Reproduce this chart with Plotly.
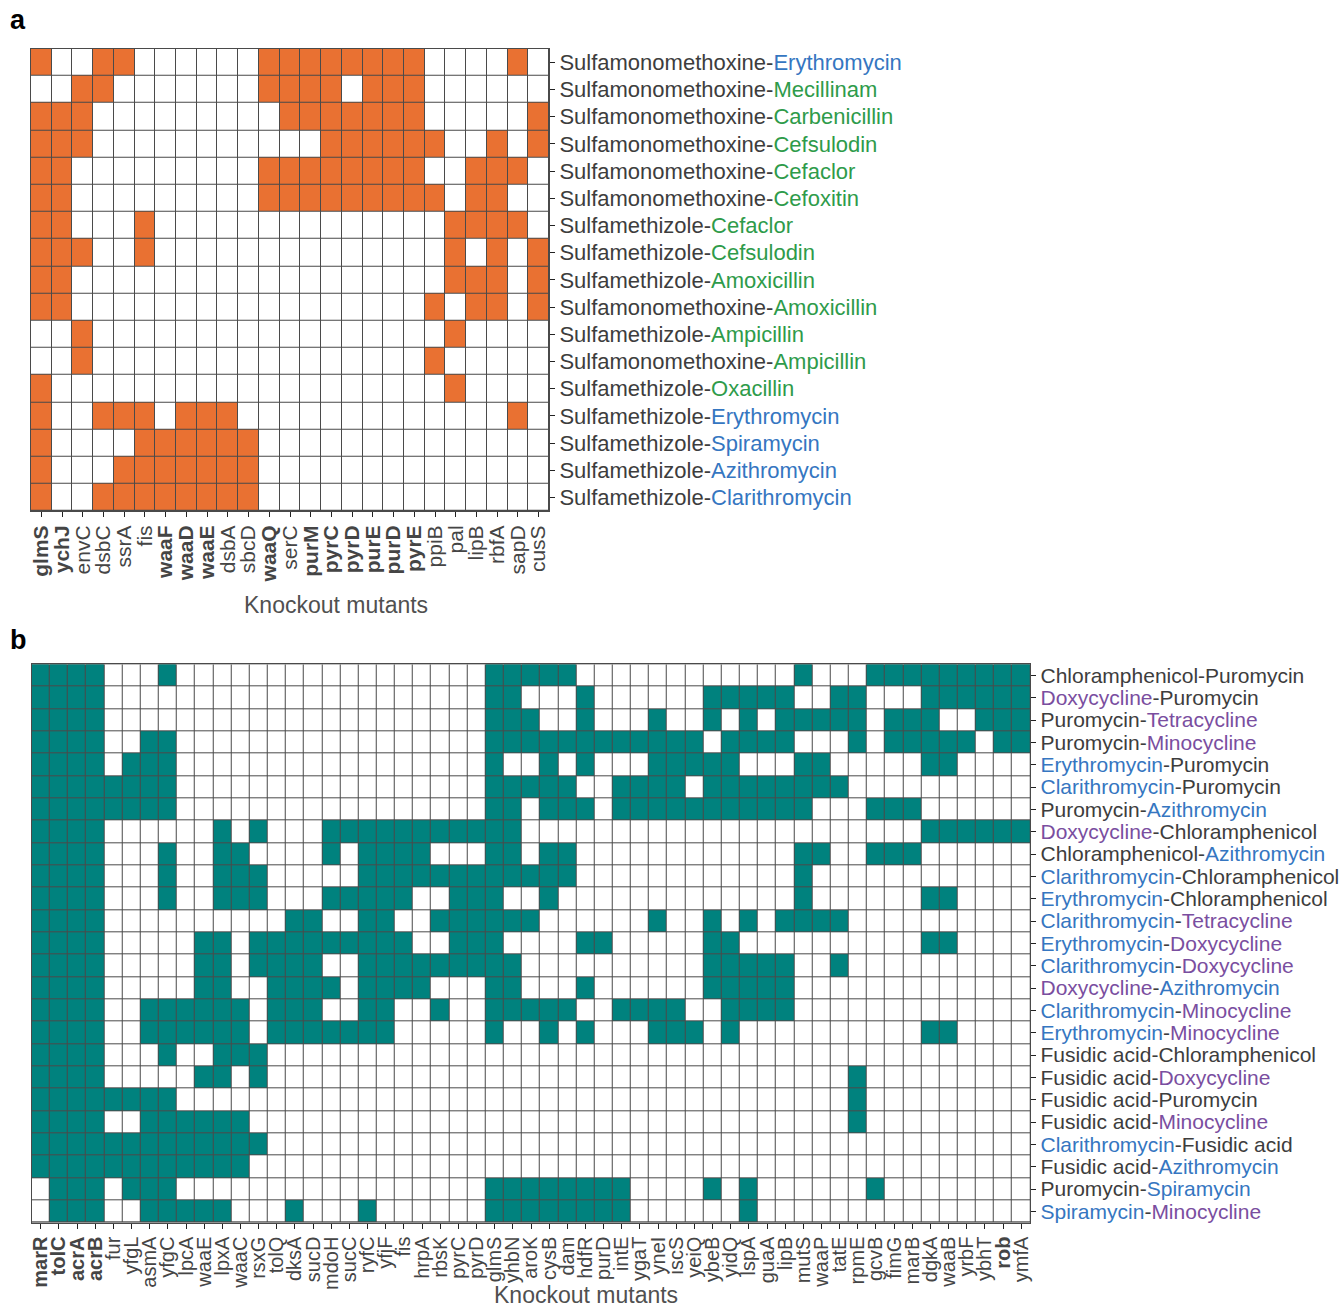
import plotly.graph_objects as go

W, H = 1339, 1311

# ---------------- Panel a data ----------------
genes_a = ["glmS", "ychJ", "envC", "dsbC", "ssrA", "fis", "waaF", "waaD", "waaE", "dsbA",
           "sbcD", "waaQ", "serC", "purM", "pyrC", "pyrD", "purE", "purD", "pyrE", "ppiB",
           "pal", "lipB", "rbfA", "sapD", "cusS"]
bold_a = ["glmS", "ychJ", "waaF", "waaD", "waaE", "waaQ", "purM", "pyrC", "pyrD", "purE",
          "purD", "pyrE"]
pairs_a = [
    ("Sulfamonomethoxine", "Erythromycin"),
    ("Sulfamonomethoxine", "Mecillinam"),
    ("Sulfamonomethoxine", "Carbenicillin"),
    ("Sulfamonomethoxine", "Cefsulodin"),
    ("Sulfamonomethoxine", "Cefaclor"),
    ("Sulfamonomethoxine", "Cefoxitin"),
    ("Sulfamethizole", "Cefaclor"),
    ("Sulfamethizole", "Cefsulodin"),
    ("Sulfamethizole", "Amoxicillin"),
    ("Sulfamonomethoxine", "Amoxicillin"),
    ("Sulfamethizole", "Ampicillin"),
    ("Sulfamonomethoxine", "Ampicillin"),
    ("Sulfamethizole", "Oxacillin"),
    ("Sulfamethizole", "Erythromycin"),
    ("Sulfamethizole", "Spiramycin"),
    ("Sulfamethizole", "Azithromycin"),
    ("Sulfamethizole", "Clarithromycin"),
]
hits_a = [
    "10011 00000 01111 11110 00010",
    "00110 00000 01111 01110 00000",
    "11100 00000 00111 11110 00001",
    "11100 00000 00001 11111 00101",
    "11000 00000 01111 11110 01110",
    "11000 00000 01111 11111 01100",
    "11000 10000 00000 00000 11110",
    "11100 10000 00000 00000 10101",
    "11000 00000 00000 00000 11101",
    "11000 00000 00000 00001 01101",
    "00100 00000 00000 00000 10000",
    "00100 00000 00000 00001 00000",
    "10000 00000 00000 00000 10000",
    "10011 10111 00000 00000 00010",
    "10000 11111 10000 00000 00000",
    "10001 11111 10000 00000 00000",
    "10011 11111 10000 00000 00000",
]

# ---------------- Panel b data ----------------
genes_b = ["marR", "tolC", "acrA", "acrB", "fur", "yfgL", "asmA", "yfgC", "lpcA", "waaE",
           "lpxA", "waaC", "rsxG", "tolQ", "dksA", "sucD", "mdoH", "sucC", "ryfC", "yfjF",
           "fis", "hrpA", "rbsK", "pyrC", "pyrD", "glmS", "yhbN", "aroK", "cysB", "dam",
           "hdfR", "purD", "intE", "ygaT", "yneI", "iscS", "yeiQ", "ybeB", "yidQ", "lspA",
           "guaA", "lipB", "mutS", "waaP", "tatE", "rpmE", "gcvB", "fimG", "marB", "dgkA",
           "waaB", "yrbF", "ybhT", "rob", "ymfA"]
bold_b = ["marR", "tolC", "acrA", "acrB", "rob"]
pairs_b = [
    ("Chloramphenicol", "Puromycin"),
    ("Doxycycline", "Puromycin"),
    ("Puromycin", "Tetracycline"),
    ("Puromycin", "Minocycline"),
    ("Erythromycin", "Puromycin"),
    ("Clarithromycin", "Puromycin"),
    ("Puromycin", "Azithromycin"),
    ("Doxycycline", "Chloramphenicol"),
    ("Chloramphenicol", "Azithromycin"),
    ("Clarithromycin", "Chloramphenicol"),
    ("Erythromycin", "Chloramphenicol"),
    ("Clarithromycin", "Tetracycline"),
    ("Erythromycin", "Doxycycline"),
    ("Clarithromycin", "Doxycycline"),
    ("Doxycycline", "Azithromycin"),
    ("Clarithromycin", "Minocycline"),
    ("Erythromycin", "Minocycline"),
    ("Fusidic acid", "Chloramphenicol"),
    ("Fusidic acid", "Doxycycline"),
    ("Fusidic acid", "Puromycin"),
    ("Fusidic acid", "Minocycline"),
    ("Clarithromycin", "Fusidic acid"),
    ("Fusidic acid", "Azithromycin"),
    ("Puromycin", "Spiramycin"),
    ("Spiramycin", "Minocycline"),
]
hits_b = [
    "11110 00100 00000 00000 00000 11111 00000 00000 00100 01111 11111",
    "11110 00000 00000 00000 00000 11000 10000 00111 11001 10001 11111",
    "11110 00000 00000 00000 00000 11100 10001 00101 01111 10111 00111",
    "11110 01100 00000 00000 00000 11111 11111 11011 11000 10111 11011",
    "11110 11100 00000 00000 00000 10010 10001 11110 00110 00001 10000",
    "11111 11100 00000 00000 00000 11111 00111 10111 11111 00000 00000",
    "11111 11100 00000 00000 00000 11011 10111 11111 11100 01110 00000",
    "11110 00000 10100 01111 11111 11000 00000 00000 00000 00001 11111",
    "11110 00100 11000 01011 11000 11011 00000 00000 00110 01110 00000",
    "11110 00100 11100 00011 11111 11111 00000 00000 00100 00000 00000",
    "11110 00100 11100 01111 10011 10010 00000 00000 00100 00001 10000",
    "11110 00000 00001 10011 00111 11100 00001 00101 01111 00000 00000",
    "11110 00001 10111 11111 10011 10000 11000 00110 00000 00001 10000",
    "11110 00001 10111 10011 11111 11000 00000 00111 11001 00000 00000",
    "11110 00001 10011 11011 11000 11000 10000 00111 11000 00000 00000",
    "11110 01111 11011 10011 00100 11111 00111 10011 11000 00000 00000",
    "11110 01111 11011 11111 00000 10010 10001 11010 00000 00001 10000",
    "11110 00100 11100 00000 00000 00000 00000 00000 00000 00000 00000",
    "11110 00001 10100 00000 00000 00000 00000 00000 00000 10000 00000",
    "11111 11100 00000 00000 00000 00000 00000 00000 00000 10000 00000",
    "11110 01111 11000 00000 00000 00000 00000 00000 00000 10000 00000",
    "11111 11111 11100 00000 00000 00000 00000 00000 00000 00000 00000",
    "11111 11111 11000 00000 00000 00000 00000 00000 00000 00000 00000",
    "01110 11100 00000 00000 00000 11111 11100 00101 00000 01000 00000",
    "01110 01111 10001 00010 00000 11111 11100 00001 00000 00000 00000",
]

# ---------------- Drug classes / colours ----------------
macrolides = ["Erythromycin", "Clarithromycin", "Azithromycin", "Spiramycin"]
beta_lactams = ["Mecillinam", "Carbenicillin", "Cefsulodin", "Cefaclor", "Cefoxitin",
                "Amoxicillin", "Ampicillin", "Oxacillin"]
tetracyclines = ["Doxycycline", "Tetracycline", "Minocycline"]

C_TEXT = "#3d3d3d"
C_MAC = "#3576c1"
C_BL = "#2e9b4a"
C_TET = "#7a4e9f"
C_ORANGE = "#E97132"
C_TEAL = "#00827E"
C_GRID = "#4a4a4a"
FONT = "Liberation Sans"


def drug_color(d):
    if d in macrolides:
        return C_MAC
    if d in beta_lactams:
        return C_BL
    if d in tetracyclines:
        return C_TET
    return C_TEXT


def pair_label(p):
    a, b = p
    return (f'<span style="color:{drug_color(a)}">{a}</span>'
            f'<span style="color:{C_TEXT}">-</span>'
            f'<span style="color:{drug_color(b)}">{b}</span>')


def gene_label(g, bold):
    return f"<b>{g}</b>" if g in bold else g


def to_matrix(rows):
    return [[int(c) for c in r.replace(" ", "")] for r in rows]


z_a = to_matrix(hits_a)
z_b = to_matrix(hits_b)

fig = go.Figure()

fig.add_trace(go.Heatmap(
    z=z_a, x=list(range(len(genes_a))), y=list(range(len(pairs_a))),
    colorscale=[[0, "white"], [1, C_ORANGE]], zmin=0, zmax=1, showscale=False,
    xgap=1, ygap=1, hoverinfo="skip", xaxis="x", yaxis="y"))

fig.add_trace(go.Heatmap(
    z=z_b, x=list(range(len(genes_b))), y=list(range(len(pairs_b))),
    colorscale=[[0, "white"], [1, C_TEAL]], zmin=0, zmax=1, showscale=False,
    xgap=1, ygap=1, hoverinfo="skip", xaxis="x2", yaxis="y2"))

common = dict(showgrid=False, zeroline=False, ticks="outside", ticklen=5, tickwidth=1,
              tickcolor="#222222", showline=True, linecolor=C_GRID, linewidth=1,
              mirror=True, automargin=False)

fig.update_layout(
    template="none",
    width=W, height=H, autosize=False,
    margin=dict(l=0, r=0, t=0, b=0),
    paper_bgcolor="white", plot_bgcolor=C_GRID,
    font=dict(family=FONT, color=C_TEXT),
    xaxis=dict(domain=[31 / W, 549 / W], anchor="y", range=[-0.5, len(genes_a) - 0.5],
               tickvals=list(range(len(genes_a))),
               ticktext=[gene_label(g, bold_a) for g in genes_a],
               tickangle=-90, tickfont=dict(size=21, color="#454545", family=FONT), **common),
    yaxis=dict(domain=[1 - 511 / H, 1 - 48.7 / H], anchor="x", side="right",
               range=[len(pairs_a) - 0.5, -0.5],
               tickvals=list(range(len(pairs_a))),
               ticktext=[pair_label(p) for p in pairs_a],
               tickfont=dict(size=22, family=FONT), **common),
    xaxis2=dict(domain=[31.7 / W, 1030.3 / W], anchor="y2", range=[-0.5, len(genes_b) - 0.5],
                tickvals=list(range(len(genes_b))),
                ticktext=[gene_label(g, bold_b) for g in genes_b],
                tickangle=-90, tickfont=dict(size=20, color="#454545", family=FONT), **common),
    yaxis2=dict(domain=[1 - 1222.6 / H, 1 - 664.3 / H], anchor="x2", side="right",
                range=[len(pairs_b) - 0.5, -0.5],
                tickvals=list(range(len(pairs_b))),
                ticktext=[pair_label(p) for p in pairs_b],
                tickfont=dict(size=21, family=FONT), **common),
    annotations=[
        dict(text="<b>a</b>", x=18 / W, y=1 - 20 / H, xref="paper", yref="paper",
             xanchor="center", yanchor="middle",
             showarrow=False, font=dict(size=27, color="black", family=FONT)),
        dict(text="<b>b</b>", x=18 / W, y=1 - 640 / H, xref="paper", yref="paper",
             xanchor="center", yanchor="middle",
             showarrow=False, font=dict(size=27, color="black", family=FONT)),
        dict(text="Knockout mutants", x=336 / W, y=1 - 605 / H, xref="paper", yref="paper",
             xanchor="center", yanchor="middle",
             showarrow=False, font=dict(size=23, color="#505050", family=FONT)),
        dict(text="Knockout mutants", x=586 / W, y=1 - 1310 / H, xref="paper", yref="paper",
             xanchor="center", yanchor="bottom",
             showarrow=False, font=dict(size=23, color="#505050", family=FONT)),
    ],
)

fig.write_html("out.html", config={"displayModeBar": False},
               post_script="document.body.style.margin='0';document.body.style.overflow='hidden';")
